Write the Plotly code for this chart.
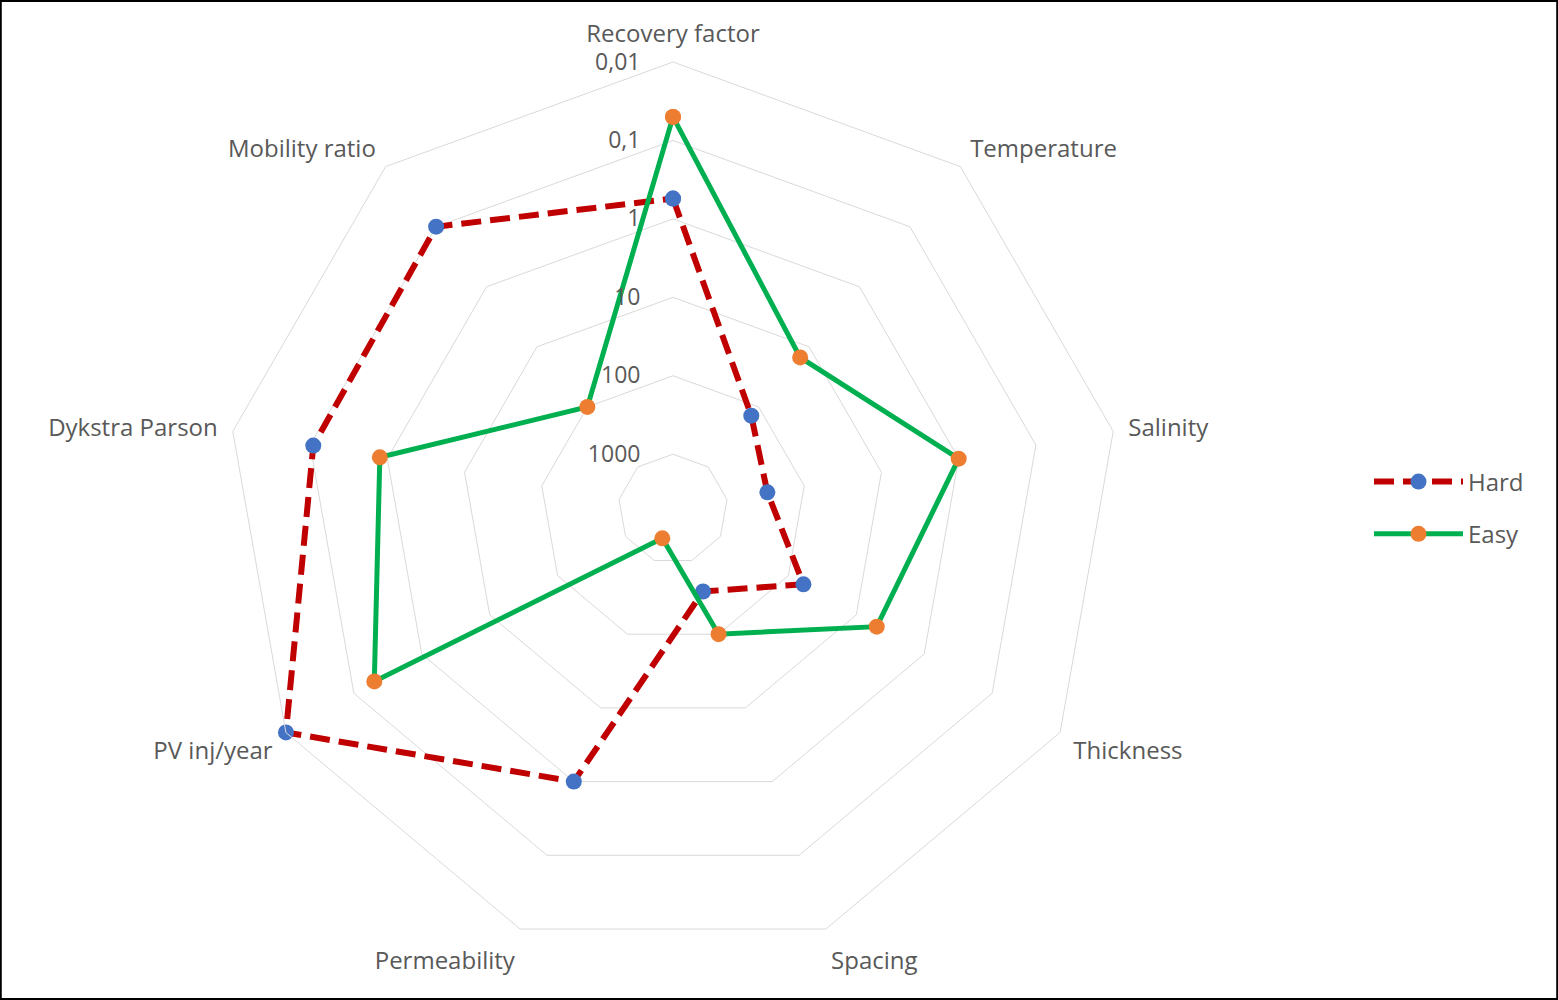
"""Hard vs easy screening radar chart (log radial scale, reversed)."""

import math

import plotly.graph_objects as go

categories = [
    "Recovery factor",
    "Temperature",
    "Salinity",
    "Thickness",
    "Spacing",
    "Permeability",
    "PV inj/year",
    "Dykstra Parson",
    "Mobility ratio",
]
hard = [0.55, 140, 300, 60, 380, 1.0, 0.01, 0.11, 0.1]
easy = [0.05, 15, 1.0, 5.0, 100, 2000, 0.2, 0.8, 100]

tick_vals = [0.01, 0.1, 1, 10, 100, 1000]
tick_text = ["0,01", "0,1", "1", "10", "100", "1000"]
r_center, r_outer = 5000, 0.01  # axis runs from 5000 (centre) to 0.01 (edge)

FONT = "Open Sans"
GREY_TEXT = "#595959"
GRID = "#d9d9d9"
W, H = 1558, 1000


def _closed(values: list) -> list:
    return values + values[:1]


def _axis(values: list) -> list:
    # Reversed log axis: plotly draws polygon grids wrongly for reversed or
    # negative log ranges, so plot r_center / v on a plain log axis instead.
    return [r_center / v for v in values]


def _figure() -> go.Figure:
    fig = go.Figure()
    fig.add_trace(
        go.Scatterpolar(
            r=_axis(_closed(hard)),
            theta=_closed(categories),
            customdata=_closed(hard),
            hovertemplate="%{theta}: %{customdata}<extra>Hard</extra>",
            mode="lines+markers",
            name="Hard",
            legendgroup="hard",
            line={"color": "#C00000", "width": 6, "dash": "20px,9px"},
            marker={"color": "#4472C4", "size": 16},
        )
    )
    fig.add_trace(
        go.Scatterpolar(
            r=_axis(_closed(easy)),
            theta=_closed(categories),
            customdata=_closed(easy),
            hovertemplate="%{theta}: %{customdata}<extra>Easy</extra>",
            mode="lines+markers",
            name="Easy",
            legendgroup="easy",
            line={"color": "#00B050", "width": 5},
            marker={"color": "#ED7D31", "size": 16},
        )
    )

    radius = 447
    cx, cy = 673, H - 509
    fig.update_layout(
        width=W,
        height=H,
        margin={"l": 0, "r": 0, "t": 0, "b": 0},
        paper_bgcolor="white",
        font={"family": FONT, "size": 24, "color": GREY_TEXT},
        polar={
            "domain": {
                "x": [(cx - radius) / W, (cx + radius) / W],
                "y": [(cy - radius) / H, (cy + radius) / H],
            },
            "bgcolor": "white",
            "gridshape": "linear",
            "radialaxis": {
                "type": "log",
                "range": [0, math.log10(r_center / r_outer) + 0.001],
                "tickvals": _axis(tick_vals),
                "ticktext": tick_text,
                "angle": 90,
                "tickangle": 90,
                "side": "counterclockwise",
                "showline": False,
                "ticks": "outside",
                "ticklen": 24,
                "tickcolor": "rgba(0,0,0,0)",
                "gridcolor": GRID,
                "gridwidth": 1,
                "tickfont": {"family": FONT, "size": 23, "color": GREY_TEXT},
            },
            "angularaxis": {
                "direction": "clockwise",
                "rotation": 90,
                "showgrid": False,
                "showline": True,
                "linecolor": GRID,
                "linewidth": 1,
                "ticks": "outside",
                "ticklen": 10,
                "tickcolor": "rgba(0,0,0,0)",
                "tickfont": {"family": FONT, "size": 24, "color": GREY_TEXT},
            },
        },
        legend={
            "x": 1369 / W,
            "y": (H - 508) / H,
            "xanchor": "left",
            "yanchor": "middle",
            "traceorder": "grouped",
            "tracegroupgap": 18,
            "itemwidth": 89,
            "font": {"family": FONT, "size": 24, "color": GREY_TEXT},
        },
        shapes=[
            {
                "type": "rect",
                "xref": "paper",
                "yref": "paper",
                "x0": 0.0005,
                "x1": 0.9995,
                "y0": 0.001,
                "y1": 0.999,
                "line": {"color": "black", "width": 2},
            }
        ],
    )
    return fig


if __name__ == "__main__":
    _figure().write_html(
        "out.html",
        config={"displayModeBar": False},
        post_script="document.body.style.margin='0';",
    )
